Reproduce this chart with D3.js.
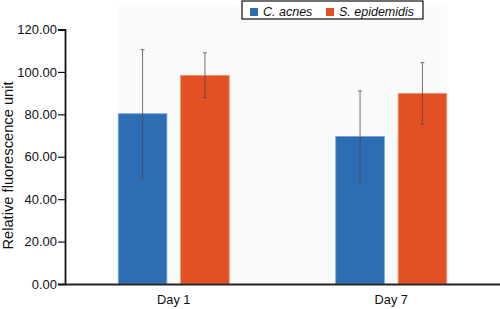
<!DOCTYPE html>
<html>
<head>
<meta charset="utf-8">
<script src="https://cdn.jsdelivr.net/npm/d3@7"></script>
<style>
  body { margin: 0; background: #fff; }
  text { font-family: "Liberation Sans", Arial, sans-serif; fill: #111; }
</style>
</head>
<body>
<div id="chart"></div>
<script>

// data
const days = ["Day 1", "Day 7"]
const series = ["C. acnes", "S. epidemidis"]
const c_acnes = [80.3, 69.6]
const s_epidermidis = [98.4, 89.9]
const c_acnes_err = [30.2, 21.5]
const s_epidermidis_err = [10.6, 14.5]
const y_ticks = [0, 20, 40, 60, 80, 100, 120]
const colors = ["#2e6db4", "#e35024"]

const width = 500, height = 309
const margin = {top: 29, right: 0, bottom: 25, left: 65}

const rows = days.map((d, i) => ({
	day: d,
	vals: [
		{name: series[0], v: c_acnes[i], e: c_acnes_err[i]},
		{name: series[1], v: s_epidermidis[i], e: s_epidermidis_err[i]}
	]
}))

const svg = d3.select("#chart").append("svg")
	.attr("width", width)
	.attr("height", height)

const y = d3.scaleLinear()
	.domain([0, 120])
	.range([284, 29.5])

const x0 = d3.scaleBand()
	.domain(days)
	.range([margin.left, width])

const x1 = d3.scaleBand()
	.domain(series)
	.range([0, 111])
	.paddingInner(0.22)

const color = d3.scaleOrdinal().domain(series).range(colors)

// faint plot background behind the bars
svg.append("rect")
	.attr("x", x0("Day 1") + x0.bandwidth() / 2 - 56)
	.attr("y", 5)
	.attr("width", x0("Day 7") - x0("Day 1") + 112)
	.attr("height", y(0) - 5)
	.attr("fill", "#f9fafa")

// bars
const grp = svg.selectAll(".grp")
	.data(rows)
	.enter()
	.append("g")
		.attr("class", "grp")
		.attr("transform", d => "translate(" + (x0(d.day) + x0.bandwidth() / 2 - 55.5) + ",0)")

grp.selectAll("rect")
	.data(d => d.vals)
	.enter()
	.append("rect")
		.attr("x", d => x1(d.name))
		.attr("y", d => y(d.v))
		.attr("width", x1.bandwidth())
		.attr("height", d => y(0) - y(d.v))
		.attr("fill", d => color(d.name))
		.attr("stroke", (d, i) => i ? "#eaa070" : "#7fa6d6")
		.attr("stroke-width", 0.8)

// error bars
const err = grp.selectAll(".err")
	.data(d => d.vals)
	.enter()
	.append("g")
		.attr("class", "err")
		.attr("stroke", "#4a4a4a")
		.attr("stroke-width", 0.9)
		.attr("opacity", 0.85)

err.append("line")
	.attr("x1", d => x1(d.name) + x1.bandwidth() / 2)
	.attr("x2", d => x1(d.name) + x1.bandwidth() / 2)
	.attr("y1", d => y(d.v + d.e))
	.attr("y2", d => y(d.v - d.e))

err.selectAll(".cap")
	.data(d => [d.v + d.e, d.v - d.e].map(t => ({name: d.name, t: t})))
	.enter()
	.append("line")
		.attr("x1", d => x1(d.name) + x1.bandwidth() / 2 - 2)
		.attr("x2", d => x1(d.name) + x1.bandwidth() / 2 + 2)
		.attr("y1", d => y(d.t))
		.attr("y2", d => y(d.t))

// y axis
const yAxis = svg.append("g")
	.attr("transform", "translate(" + margin.left + ",0)")
	.call(d3.axisLeft(y).tickValues(y_ticks).tickFormat(d3.format(".2f")).tickSize(7).tickPadding(1))
yAxis.select(".domain").attr("stroke", "#111").attr("stroke-width", 1.8)
yAxis.selectAll(".tick line").attr("stroke", "#111").attr("stroke-width", 1.2)
yAxis.selectAll("text")
	.style("font-size", "13px")
	.attr("fill", "#111")
	.style("font-family", "Liberation Sans, Arial, sans-serif")

// x axis
const xAxis = svg.append("g")
	.attr("transform", "translate(0," + y(0) + ")")
	.call(d3.axisBottom(x0).tickSize(0).tickPadding(11))
xAxis.select(".domain").attr("stroke", "#222").attr("stroke-width", 1.8)
xAxis.selectAll("text")
	.style("font-size", "12.8px")
	.attr("fill", "#111")
	.style("font-family", "Liberation Sans, Arial, sans-serif")

// y label
svg.append("text")
	.attr("transform", "rotate(-90)")
	.attr("text-anchor", "middle")
	.attr("x", -165.5)
	.attr("y", 12.7)
	.text("Relative fluorescence unit")
	.style("font-size", "14.7px")

// legend
const legend = svg.append("g").attr("transform", "translate(242,1)")
legend.append("rect")
	.attr("width", 181)
	.attr("height", 18)
	.attr("fill", "#fff")
	.attr("stroke", "#111")
	.attr("stroke-width", 1.2)

const lx = [8, 84]
const item = legend.selectAll(".item")
	.data(series)
	.enter()
	.append("g")
		.attr("transform", (d, i) => "translate(" + lx[i] + ",0)")
item.append("rect")
	.attr("y", 7)
	.attr("width", 8)
	.attr("height", 8)
	.attr("fill", d => color(d))
item.append("text")
	.attr("x", 13)
	.attr("y", 15)
	.style("font-size", "12.5px")
	.style("font-style", "italic")
	.text(d => d)

</script>
</body>
</html>
